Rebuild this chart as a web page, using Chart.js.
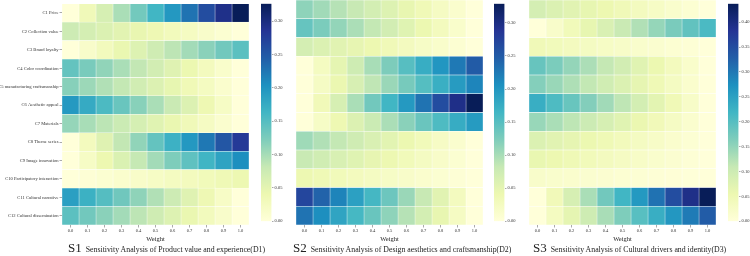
<!DOCTYPE html>
<html>
<head>
<meta charset="utf-8">
<script src="https://cdn.jsdelivr.net/npm/chart.js@4.4.0/dist/chart.umd.min.js"></script>
<style>
    body { margin: 0; background: #fff; width: 750px; height: 256px; overflow: hidden; position: relative; }
    canvas { position: absolute; }
    .cap { position: absolute; top: 239px; white-space: nowrap; font-family: 'Liberation Serif', 'Times New Roman', serif; color: #222; line-height: 16px; }
    .cap .big { font-size: 13px; }
    .cap .small { font-size: 7.8px; margin-left: 4px; }
</style>
</head>
<body>
<canvas id="heat1" style="left:0px;top:0px" width="250" height="243"></canvas>
<canvas id="bar1" style="left:261px;top:0px" width="40" height="225"></canvas>
<canvas id="heat2" style="left:296px;top:0px" width="187" height="243"></canvas>
<canvas id="bar2" style="left:494px;top:0px" width="40" height="225"></canvas>
<canvas id="heat3" style="left:529px;top:0px" width="187" height="243"></canvas>
<canvas id="bar3" style="left:728px;top:0px" width="22" height="225"></canvas>

<div class="cap" style="left:68px"><span class="big">S1</span><span class="small">Sensitivity Analysis of Product value and experience(D1)</span></div>
<div class="cap" style="left:293px"><span class="big">S2</span><span class="small">Sensitivity Analysis of Design aesthetics and craftsmanship(D2)</span></div>
<div class="cap" style="left:533px"><span class="big">S3</span><span class="small">Sensitivity Analysis of Cultural drivers and identity(D3)</span></div>

<script>
const criteria = [
    'C1 Price', 'C2 Collection value', 'C3 Brand loyalty', 'C4 Color coordination',
    'C5 manufacturing craftsmanship', 'C6 Aesthetic appeal', 'C7 Materials', 'C8 Theme series',
    'C9 Image innovation', 'C10 Participatory interaction', 'C11 Cultural narrative', 'C12 Cultural dissemination'
];
const weights = [0.0, 0.1, 0.2, 0.3, 0.4, 0.5, 0.6, 0.7, 0.8, 0.9, 1.0];

// rows = criteria, columns = weights
const d1 = [
    [0.000, 0.033, 0.065, 0.098, 0.130, 0.163, 0.196, 0.228, 0.261, 0.293, 0.326],
    [0.075, 0.068, 0.060, 0.053, 0.045, 0.038, 0.030, 0.023, 0.015, 0.008, 0.000],
    [0.000, 0.015, 0.029, 0.044, 0.058, 0.073, 0.087, 0.102, 0.116, 0.131, 0.145],
    [0.140, 0.126, 0.112, 0.098, 0.084, 0.070, 0.056, 0.042, 0.028, 0.014, 0.000],
    [0.118, 0.106, 0.094, 0.083, 0.071, 0.059, 0.047, 0.035, 0.024, 0.012, 0.000],
    [0.195, 0.176, 0.156, 0.137, 0.117, 0.098, 0.078, 0.059, 0.039, 0.020, 0.000],
    [0.110, 0.099, 0.088, 0.077, 0.066, 0.055, 0.044, 0.033, 0.022, 0.011, 0.000],
    [0.000, 0.028, 0.056, 0.084, 0.112, 0.140, 0.168, 0.196, 0.224, 0.252, 0.280],
    [0.000, 0.020, 0.041, 0.061, 0.082, 0.102, 0.123, 0.143, 0.164, 0.184, 0.205],
    [0.000, 0.004, 0.008, 0.012, 0.016, 0.020, 0.024, 0.028, 0.032, 0.036, 0.040],
    [0.188, 0.169, 0.150, 0.132, 0.113, 0.094, 0.075, 0.056, 0.038, 0.019, 0.000],
    [0.145, 0.131, 0.116, 0.102, 0.087, 0.073, 0.058, 0.044, 0.029, 0.015, 0.000]
];
const d2 = [
    [0.115, 0.104, 0.092, 0.081, 0.069, 0.058, 0.046, 0.035, 0.023, 0.012, 0.000],
    [0.140, 0.126, 0.112, 0.098, 0.084, 0.070, 0.056, 0.042, 0.028, 0.014, 0.000],
    [0.068, 0.061, 0.054, 0.048, 0.041, 0.034, 0.027, 0.020, 0.014, 0.007, 0.000],
    [0.000, 0.025, 0.050, 0.075, 0.100, 0.125, 0.150, 0.175, 0.200, 0.225, 0.250],
    [0.000, 0.022, 0.043, 0.065, 0.086, 0.108, 0.129, 0.151, 0.172, 0.194, 0.215],
    [0.000, 0.033, 0.066, 0.099, 0.132, 0.165, 0.197, 0.230, 0.263, 0.296, 0.329],
    [0.000, 0.020, 0.039, 0.059, 0.078, 0.098, 0.117, 0.137, 0.156, 0.176, 0.195],
    [0.105, 0.095, 0.084, 0.074, 0.063, 0.053, 0.042, 0.032, 0.021, 0.011, 0.000],
    [0.080, 0.072, 0.064, 0.056, 0.048, 0.040, 0.032, 0.024, 0.016, 0.008, 0.000],
    [0.040, 0.036, 0.032, 0.028, 0.024, 0.020, 0.016, 0.012, 0.008, 0.004, 0.000],
    [0.270, 0.243, 0.216, 0.189, 0.162, 0.135, 0.108, 0.081, 0.054, 0.027, 0.000],
    [0.230, 0.207, 0.184, 0.161, 0.138, 0.115, 0.092, 0.069, 0.046, 0.023, 0.000]
];
const d3 = [
    [0.090, 0.081, 0.072, 0.063, 0.054, 0.045, 0.036, 0.027, 0.018, 0.009, 0.000],
    [0.000, 0.021, 0.042, 0.063, 0.084, 0.105, 0.126, 0.147, 0.168, 0.189, 0.210],
    [0.045, 0.041, 0.036, 0.032, 0.027, 0.023, 0.018, 0.014, 0.009, 0.005, 0.000],
    [0.185, 0.167, 0.148, 0.130, 0.111, 0.093, 0.074, 0.056, 0.037, 0.019, 0.000],
    [0.160, 0.144, 0.128, 0.112, 0.096, 0.080, 0.064, 0.048, 0.032, 0.016, 0.000],
    [0.230, 0.207, 0.184, 0.161, 0.138, 0.115, 0.092, 0.069, 0.046, 0.023, 0.000],
    [0.145, 0.131, 0.116, 0.102, 0.087, 0.073, 0.058, 0.044, 0.029, 0.015, 0.000],
    [0.080, 0.072, 0.064, 0.056, 0.048, 0.040, 0.032, 0.024, 0.016, 0.008, 0.000],
    [0.060, 0.054, 0.048, 0.042, 0.036, 0.030, 0.024, 0.018, 0.012, 0.006, 0.000],
    [0.020, 0.018, 0.016, 0.014, 0.012, 0.010, 0.008, 0.006, 0.004, 0.002, 0.000],
    [0.000, 0.044, 0.087, 0.131, 0.175, 0.219, 0.262, 0.306, 0.350, 0.393, 0.437],
    [0.000, 0.033, 0.066, 0.099, 0.132, 0.165, 0.198, 0.231, 0.264, 0.297, 0.330]
];
const cbTicks12 = [0.00, 0.05, 0.10, 0.15, 0.20, 0.25, 0.30];
const cbTicks3 = [0.00, 0.05, 0.10, 0.15, 0.20, 0.25, 0.30, 0.35, 0.40];

const serif = "'Liberation Serif', 'Times New Roman', serif";
const ylgnbu = ['#ffffd9', '#edf8b1', '#c7e9b4', '#7fcdbb', '#41b6c4', '#1d91c0', '#225ea8', '#253494', '#081d58'];

function hexToRgb(h) {
    return [1, 3, 5].map(i => parseInt(h.substr(i, 2), 16));
}

function colorFor(t) {
    t = Math.max(0, Math.min(1, t));
    const pos = t * (ylgnbu.length - 1);
    const i = Math.min(Math.floor(pos), ylgnbu.length - 2);
    const f = pos - i;
    const a = hexToRgb(ylgnbu[i]), b = hexToRgb(ylgnbu[i + 1]);
    const c = a.map((v, k) => Math.round(v + (b[k] - v) * f));
    return `rgb(${c[0]},${c[1]},${c[2]})`;
}

function maxOf(data) {
    return Math.max(...data.map(row => Math.max(...row)));
}

function heatmap(id, data, showLabels) {
    const vmax = maxOf(data);
    const datasets = weights.map((w, k) => ({
        label: w.toFixed(1),
        data: criteria.map(() => 1),
        backgroundColor: criteria.map((c, i) => colorFor(data[i][k] / vmax)),
        borderColor: 'rgba(255,255,255,0.8)',
        borderWidth: 0.5,
        borderSkipped: false,
        barPercentage: 1,
        categoryPercentage: 1
    }));
    return new Chart(document.getElementById(id), {
        type: 'bar',
        data: { labels: criteria, datasets: datasets },
        options: {
            indexAxis: 'y',
            responsive: false,
            animation: false,
            layout: { padding: { left: 0, right: showLabels ? 1 : 0, top: 0, bottom: 0 } },
            plugins: { legend: { display: false }, tooltip: { enabled: false } },
            scales: {
                x: {
                    stacked: true,
                    min: 0,
                    max: weights.length,
                    afterBuildTicks: s => { s.ticks = weights.map((w, i) => ({ value: i + 0.5 })); },
                    afterFit: s => { s.height = 18; },
                    ticks: {
                        callback: (v, i) => weights[i].toFixed(1),
                        autoSkip: false, maxRotation: 0, padding: 1,
                        font: { family: serif, size: 4.5 }, color: '#333'
                    },
                    grid: { drawOnChartArea: false, drawTicks: true, tickLength: 2.5, color: '#555', lineWidth: 0.5 },
                    border: { display: false },
                    title: { display: true, text: 'Weight', font: { family: serif, size: 6.5 }, color: '#222', padding: { top: 0, bottom: 0 } }
                },
                y: {
                    stacked: true,
                    display: showLabels,
                    afterFit: s => { if (showLabels) s.width = 62; },
                    ticks: { font: { family: serif, size: 4.6 }, color: '#333', padding: 1, autoSkip: false },
                    grid: { offset: false, drawOnChartArea: false, drawTicks: true, tickLength: 2.5, color: '#555', lineWidth: 0.5 },
                    border: { display: false }
                }
            }
        }
    });
}

function colorbar(id, data, ticks) {
    const vmax = maxOf(data);
    return new Chart(document.getElementById(id), {
        type: 'bar',
        data: {
            labels: [''],
            datasets: [{
                data: [vmax],
                backgroundColor: ctx => {
                    const area = ctx.chart.chartArea;
                    if (!area) return null;
                    const g = ctx.chart.ctx.createLinearGradient(0, area.bottom, 0, area.top);
                    ylgnbu.forEach((c, i) => g.addColorStop(i / (ylgnbu.length - 1), c));
                    return g;
                },
                barPercentage: 1,
                categoryPercentage: 1
            }]
        },
        options: {
            responsive: false,
            animation: false,
            layout: { padding: 0 },
            plugins: { legend: { display: false }, tooltip: { enabled: false } },
            scales: {
                x: { display: false },
                y: {
                    position: 'right',
                    min: 0,
                    max: vmax,
                    afterBuildTicks: s => { s.ticks = ticks.map(v => ({ value: v })); },
                    afterFit: s => { s.width = id === 'bar3' ? 11.5 : 29.5; },
                    ticks: {
                        callback: v => v.toFixed(2),
                        padding: 1,
                        font: { family: serif, size: 4.5 }, color: '#333'
                    },
                    grid: { drawOnChartArea: false, drawTicks: true, tickLength: 2, color: '#555', lineWidth: 0.5 },
                    border: { display: false }
                }
            }
        }
    });
}

heatmap('heat1', d1, true);
heatmap('heat2', d2, false);
heatmap('heat3', d3, false);
colorbar('bar1', d1, cbTicks12);
colorbar('bar2', d2, cbTicks12);
colorbar('bar3', d3, cbTicks3);
</script>
</body>
</html>
